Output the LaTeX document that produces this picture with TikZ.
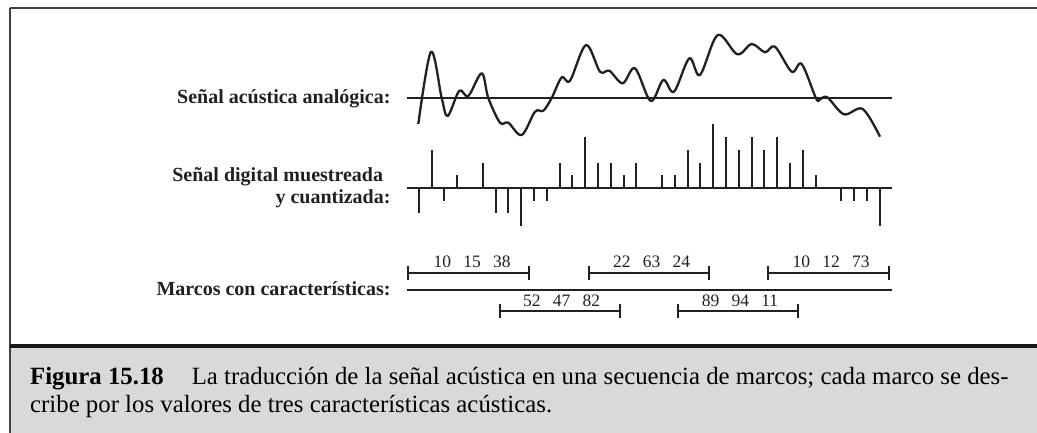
\documentclass[tikz,border=0pt]{standalone}
\usepackage{fontspec}
\setmainfont{Liberation Serif}
\usetikzlibrary{arrows.meta}
\definecolor{capgray}{HTML}{D9D9D9}
\definecolor{ink}{HTML}{231F20}
\begin{document}
\begin{tikzpicture}[x=1pt,y=-1pt,
  lab/.style={font=\fontsize{20}{24}\selectfont\bfseries, inner sep=0pt, anchor=base east, text=ink},
  num/.style={font=\fontsize{17.5}{20}\selectfont, inner sep=0pt, anchor=base, text=ink},
  captext/.style={font=\fontsize{24.8}{29}\selectfont, inner sep=0pt, anchor=base west, text=black},
  axisline/.style={line width=2pt, draw=ink},
  stemline/.style={line width=2pt, draw=ink},
  wave/.style={line width=2.3pt, line join=round, draw=ink},
  framebar/.style={line width=2pt, draw=ink, {Bar[width=14pt]}-{Bar[width=14pt]}},
]
\useasboundingbox (0,0) rectangle (1037,433);
% frame and caption area
\fill[capgray] (10,347) rectangle (1037,433);
\draw[line width=1.3pt, draw=black!75] (10,8) -- (1037,8);
\draw[line width=1.3pt, draw=black!75] (10,8) -- (10,433);
\draw[line width=3.5pt, draw=black!90] (10,346) -- (1037,346);

% labels
\node[lab] (la)  at (390.7,104) {Señal acústica analógica:};
\node[lab] (ld1) at (383.3,181.5) {Señal digital muestreada};
\node[lab] (ld2) at (390.7,203.3) {y cuantizada:};
\node[lab] (lm)  at (390.7,295) {Marcos con características:};

% analog signal
\coordinate (a0) at (407,98);
\coordinate (a1) at (892,98);
\draw[axisline] (a0) -- (a1);
\draw[wave] plot[smooth, tension=0.55] coordinates {
 (418.3,124) (431,51.7) (441.7,98) (447.7,116) (459.3,90.7) (468.3,96)
 (481.7,73.3) (488.3,98) (500,122.7) (508.3,122.7) (521.7,135) (535,111.7)
 (543.3,110.7) (551.7,98) (561.7,77.3) (570,80.7) (586,45) (600,71.7)
 (609.3,70.7) (622.7,83.3) (635,68.3) (650.7,101) (663.3,80) (674,91.7)
 (689.3,58.3) (700,75) (717.7,35) (737.3,54.3) (751.7,44) (765,52.3)
 (775,46.7) (791.7,71.7) (801.7,64) (816,98.3) (820,99.3) (827.3,97.3)
 (844,114.3) (862.7,109) (880,136.7)};

% digital signal
\coordinate (d0) at (407,188);
\coordinate (d1) at (892,188);
\draw[axisline] (d0) -- (d1);
\foreach \i/\v in {0/-2,1/3,2/-1,3/1,5/2,6/-2,7/-2,8/-3,9/-1,10/-1,11/2,12/1,
  13/4,14/2,15/2,16/1,17/2,19/1,20/1,21/3,22/2,23/5,24/4,25/3,26/4,27/3,28/4,
  29/2,30/3,31/1,33/-1,34/-1,35/-1,36/-3}
  \draw[stemline] ({418.7+\i*12.806},188) -- ++(0,{-\v*12.7});

% frames
\coordinate (m0) at (407,290);
\coordinate (m1) at (892,290);
\draw[axisline] (m0) -- (m1);
\coordinate (f1a) at (407.3,273.3); \coordinate (f1b) at (530,273.3);
\coordinate (f2a) at (588.3,273.3); \coordinate (f2b) at (710,273.3);
\coordinate (f3a) at (767.3,273.3); \coordinate (f3b) at (890,273.3);
\coordinate (f4a) at (499,311);     \coordinate (f4b) at (620.7,311);
\coordinate (f5a) at (677.3,311);   \coordinate (f5b) at (799.3,311);
\draw[framebar] (f1a) -- (f1b);
\draw[framebar] (f2a) -- (f2b);
\draw[framebar] (f3a) -- (f3b);
\draw[framebar] (f4a) -- (f4b);
\draw[framebar] (f5a) -- (f5b);
\node[num] (n1) at (472.2,267.3) {10\hspace{0.7em}15\hspace{0.7em}38};
\node[num] (n2) at (651.7,267.3) {22\hspace{0.7em}63\hspace{0.7em}24};
\node[num] (n3) at (831.2,267.3) {10\hspace{0.7em}12\hspace{0.7em}73};
\node[num] (n4) at (561.7,306.7) {52\hspace{0.7em}47\hspace{0.7em}82};
\node[num] (n5) at (740,306.7)   {89\hspace{0.7em}94\hspace{0.7em}11};

% caption
\node[captext] (c1) at (30,384) {\textbf{Figura 15.18}\hspace{28pt}La traducción de la señal acústica en una secuencia de marcos; cada marco se des-};
\node[captext] (c2) at (30,412) {cribe por los valores de tres características acústicas.};
\end{tikzpicture}
\end{document}
